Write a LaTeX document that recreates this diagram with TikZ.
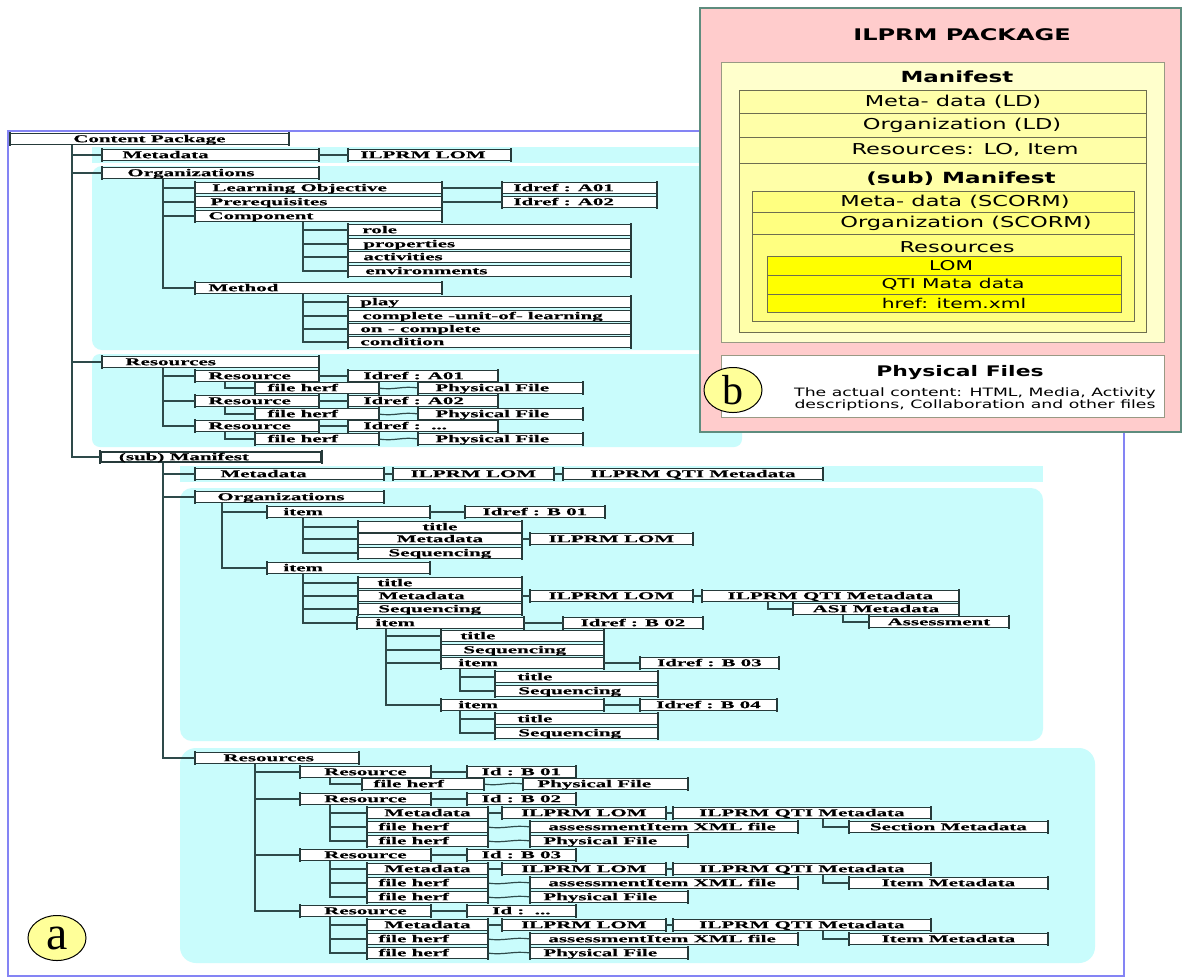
\documentclass[tikz,border=0pt]{standalone}
\usepackage{fontspec}
\usepackage{graphicx}
\usetikzlibrary{shapes.geometric}
\newfontfamily\treefont[FakeStretch=2.0,FakeBold=0.4]{Liberation Serif}
\newfontfamily\pkgfont[FakeStretch=1.5]{DejaVu Sans}
\newfontfamily\tagfont{Liberation Serif}
\definecolor{boxc}{HTML}{263A3A}
\definecolor{linec}{HTML}{2E4A4A}
\definecolor{cyanbg}{HTML}{C9FCFC}
\definecolor{framec}{HTML}{8484F4}
\definecolor{pinkc}{HTML}{FFCCCC}
\definecolor{pinkb}{HTML}{5E8C7E}
\definecolor{ylA}{HTML}{FFFFCC}
\definecolor{ylB}{HTML}{FFFFA8}
\definecolor{ylC}{HTML}{FFFF80}
\definecolor{ylD}{HTML}{FFFF00}
\definecolor{tagc}{HTML}{FFFF99}
\definecolor{rowc}{HTML}{6E6E50}

% tree box: name, left x, right x, centre y, text (centred)
\newcommand\bx[6][]{%
  \node[tb,#1] (#2) at (#3,#5) {\makebox[\dimexpr#4pt-#3pt\relax]{#6}};
  \draw[endbar] ([yshift=1pt]#2.north west) -- ([yshift=-1pt]#2.south west);
  \draw[endbar] ([yshift=1pt]#2.north east) -- ([yshift=-1pt]#2.south east);}
% tree box with left-aligned text: name, left x, right x, centre y, padding, text
\newcommand\bxl[7][]{%
  \node[tb,#1] (#2) at (#3,#5) {\makebox[\dimexpr#4pt-#3pt\relax][l]{\hspace*{#6pt}#7}};
  \draw[endbar] ([yshift=1pt]#2.north west) -- ([yshift=-1pt]#2.south west);
  \draw[endbar] ([yshift=1pt]#2.north east) -- ([yshift=-1pt]#2.south east);}
% elbow from a parent (offset from its left edge) to a child
\newcommand\el[4][]{\draw[cn,#1] ([xshift=#3pt]#2.south west) |- (#4.west);}
% straight link between neighbours
\newcommand\lk[2]{\draw[cn] (#1.east) -- (#2.west);}
% wavy link from a file reference to its file
\newcommand\sq[2]{\draw[cn] (#1.east) .. controls +(16,2.5) and +(-16,-2.5) .. (#2.west);}

% one resource of the sub-manifest with its metadata and files
\newcommand\resgrp[4]{%
  \bx{r#1}{300}{430}{#2}{Resource}
  \bx{r#1id}{467}{575}{#2}{#3}
  \bx{r#1m}{367}{487}{#2+14}{Metadata}
  \bx{r#1ml}{502}{665}{#2+14}{ILPRM LOM}
  \bx{r#1mq}{673}{930}{#2+14}{ILPRM QTI Metadata}
  \bx{r#1x}{849}{1047}{#2+28}{#4}
  \bxl{r#1fa}{367}{487}{#2+28}{11}{file herf}
  \bxl{r#1ax}{530}{797}{#2+28}{18}{assessmentItem XML file}
  \bxl{r#1fb}{367}{487}{#2+42}{11}{file herf}
  \bxl{r#1pf}{530}{687}{#2+42}{13}{Physical File}
  \el[midln]{sres}{60}{r#1}
  \lk{r#1}{r#1id}
  \el{r#1}{30}{r#1m}
  \el{r#1}{30}{r#1fa}
  \el{r#1}{30}{r#1fb}
  \lk{r#1m}{r#1ml}
  \lk{r#1ml}{r#1mq}
  \el{r#1mq}{150}{r#1x}
  \sq{r#1fa}{r#1ax}
  \sq{r#1fb}{r#1pf}}

\begin{document}
\begin{tikzpicture}[x=1pt,y=-1pt,
  tb/.style={draw=boxc,fill=white,line width=0.8pt,inner sep=0pt,
    minimum height=10.5pt,text height=7.8pt,text depth=1.4pt,anchor=west,
    font=\treefont\bfseries\fontsize{10.5}{11}\selectfont},
  endbar/.style={draw=boxc,line width=1.8pt},
  cn/.style={draw=linec,line width=1.2pt},
  midln/.style={line width=1.7pt},
  trunkln/.style={line width=2.2pt},
  pk/.style={inner sep=0pt,text=black},
  tagell/.style={ellipse,draw=black,line width=1pt,fill=tagc,
    minimum width=58pt,minimum height=45pt,inner sep=0pt}]
\useasboundingbox (0,0) rectangle (1182,978);
\fill[white] (0,0) rectangle (1182,978);

% ---------- shaded groups ----------
\fill[cyanbg] (92,147) rectangle (720,163);
\fill[cyanbg,rounded corners=10pt] (92,166) rectangle (720,350);
\fill[cyanbg,rounded corners=8pt] (92,354) rectangle (742,447);
\fill[cyanbg] (180,466) rectangle (1043,482);
\fill[cyanbg,rounded corners=12pt] (180,488) rectangle (1043,741);
\fill[cyanbg,rounded corners=16pt] (180,748) rectangle (1095,963);

% ---------- frame (a) ----------
\draw[framec,line width=2pt] (8,131) rectangle (1124,976);

% ---------- content package ----------
\bx{cp}{10}{288}{139}{Content Package}
\bxl{md}{102}{318}{155}{20}{Metadata}
\bxl{mdl}{348}{510}{155}{12}{ILPRM LOM}
\bxl{org}{102}{318}{173}{25}{Organizations}
\bxl{lo}{195}{441}{188}{17}{Learning Objective}
\bxl{lor}{502}{656}{188}{11}{Idref : A01}
\bxl{pre}{195}{441}{202}{15}{Prerequisites}
\bxl{prer}{502}{656}{202}{11}{Idref : A02}
\bxl{cmp}{195}{441}{216}{13}{Component}
\bxl{role}{348}{630}{230}{14}{role}
\bxl{prop}{348}{630}{244}{15}{properties}
\bxl{act}{348}{630}{257}{15}{activities}
\bxl{env}{348}{630}{271}{17}{environments}
\bxl{mth}{195}{441}{288}{13}{Method}
\bxl{play}{348}{630}{302}{12}{play}
\bxl{cul}{348}{630}{316}{14}{complete -unit-of- learning}
\bxl{onc}{348}{630}{329}{12}{on - complete}
\bxl{cond}{348}{630}{342}{12}{condition}
\bxl{res}{102}{318}{362}{23}{Resources}
\bxl{ra}{195}{318}{376}{13}{Resource}
\bxl{raid}{348}{497}{376}{15}{Idref : A01}
\bxl{rafh}{255}{378}{388}{12}{file herf}
\bxl{rapf}{418}{582}{388}{17}{Physical File}
\bxl{rb}{195}{318}{401}{13}{Resource}
\bxl{rbid}{348}{497}{401}{15}{Idref : A02}
\bxl{rbfh}{255}{378}{414}{12}{file herf}
\bxl{rbpf}{418}{582}{414}{17}{Physical File}
\bxl{rc}{195}{318}{426}{13}{Resource}
\bxl{rcid}{348}{497}{426}{15}{Idref :\ \ ...}
\bxl{rcfh}{255}{378}{439}{12}{file herf}
\bxl{rcpf}{418}{582}{439}{17}{Physical File}

\el[trunkln]{cp}{62}{md}
\el[trunkln]{cp}{62}{org}
\el[trunkln]{cp}{62}{res}
\lk{md}{mdl}
\el[midln]{org}{61}{lo}
\el[midln]{org}{61}{pre}
\el[midln]{org}{61}{cmp}
\el[midln]{org}{61}{mth}
\lk{lo}{lor}
\lk{pre}{prer}
\el[midln]{cmp}{108}{role}
\el[midln]{cmp}{108}{prop}
\el[midln]{cmp}{108}{act}
\el[midln]{cmp}{108}{env}
\el[midln]{mth}{108}{play}
\el[midln]{mth}{108}{cul}
\el[midln]{mth}{108}{onc}
\el[midln]{mth}{108}{cond}
\el[midln]{res}{61}{ra}
\el[midln]{res}{61}{rb}
\el[midln]{res}{61}{rc}
\lk{ra}{raid}
\lk{rb}{rbid}
\lk{rc}{rcid}
\el{ra}{30}{rafh}
\el{rb}{30}{rbfh}
\el{rc}{30}{rcfh}
\sq{rafh}{rapf}
\sq{rbfh}{rbpf}
\sq{rcfh}{rcpf}

% ---------- sub-manifest ----------
\bxl[line width=1.8pt]{sm}{100}{320}{457}{18}{(sub) Manifest}
\el[trunkln]{cp}{62}{sm}
\bxl{smd}{195}{383}{474}{25}{Metadata}
\bx{smdl}{393}{553}{474}{ILPRM LOM}
\bx{smdq}{563}{822}{474}{ILPRM QTI Metadata}
\bxl{sorg}{195}{383}{497}{22}{Organizations}
\bxl{ia}{267}{429}{512}{16}{item}
\bx{iaid}{465}{604}{512}{Idref : B 01}
\bx{iat}{358}{521}{527}{title}
\bx{iam}{358}{521}{539}{Metadata}
\bx{iaml}{530}{692}{539}{ILPRM LOM}
\bx{ias}{358}{521}{553}{Sequencing}
\bxl{ib}{267}{429}{568}{16}{item}
\bxl{ibt}{358}{521}{583}{19}{title}
\bxl{ibm}{358}{521}{596}{20}{Metadata}
\bx{ibml}{530}{692}{596}{ILPRM LOM}
\bx{ibmq}{702}{958}{596}{ILPRM QTI Metadata}
\bx{asi}{793}{958}{609}{ASI Metadata}
\bx{ass}{869}{1008}{622}{Assessment}
\bxl{ibs}{358}{521}{609}{20}{Sequencing}
\bxl{ic}{357}{523}{623}{18}{item}
\bx{icid}{563}{702}{623}{Idref : B 02}
\bxl{ict}{441}{603}{636}{19}{title}
\bxl{ics}{441}{603}{650}{22}{Sequencing}
\bxl{idd}{441}{603}{663}{17}{item}
\bx{idid}{640}{778}{663}{Idref : B 03}
\bxl{idt}{495}{657}{677}{22}{title}
\bxl{ids}{495}{657}{691}{23}{Sequencing}
\bxl{ie}{441}{603}{705}{17}{item}
\bx{ieid}{640}{776}{705}{Idref : B 04}
\bxl{iet}{495}{657}{719}{22}{title}
\bxl{ies}{495}{657}{733}{23}{Sequencing}
\bxl{sres}{195}{358}{758}{28}{Resources}

\el[midln]{sm}{63}{smd}
\el[midln]{sm}{63}{sorg}
\el[midln]{sm}{63}{sres}
\lk{smd}{smdl}
\lk{smdl}{smdq}
\el[midln]{sorg}{27}{ia}
\el[midln]{sorg}{27}{ib}
\lk{ia}{iaid}
\el{ia}{36}{iat}
\el{ia}{36}{iam}
\el{ia}{36}{ias}
\lk{iam}{iaml}
\el{ib}{36}{ibt}
\el{ib}{36}{ibm}
\el{ib}{36}{ibs}
\el{ib}{36}{ic}
\lk{ibm}{ibml}
\lk{ibml}{ibmq}
\el{ibmq}{66}{asi}
\el{asi}{50}{ass}
\lk{ic}{icid}
\el{ic}{29}{ict}
\el{ic}{29}{ics}
\el{ic}{29}{idd}
\el{ic}{29}{ie}
\lk{idd}{idid}
\el{idd}{19}{idt}
\el{idd}{19}{ids}
\lk{ie}{ieid}
\el{ie}{19}{iet}
\el{ie}{19}{ies}

% ---------- sub-manifest resources ----------
\bx{r1}{300}{430}{772}{Resource}
\bx{r1id}{467}{575}{772}{Id : B 01}
\bxl{r1fh}{362}{483}{784}{11}{file herf}
\bxl{r1pf}{523}{687}{784}{14}{Physical File}
\el[midln]{sres}{60}{r1}
\lk{r1}{r1id}
\el{r1}{30}{r1fh}
\sq{r1fh}{r1pf}
\resgrp{2}{799}{Id : B 02}{Section Metadata}
\resgrp{3}{855}{Id : B 03}{Item Metadata}
\resgrp{4}{911}{Id :\ \ ...}{Item Metadata}

\node[tagell] (taga) at (57,938) {\tagfont\fontsize{48}{48}\selectfont a};

% ---------- package overview (b) ----------
\filldraw[fill=pinkc,draw=pinkb,line width=2pt] (700,8) rectangle (1181,432);
\node[pk,font=\pkgfont\bfseries\fontsize{16}{18}\selectfont] (pkgt) at (962,35) {ILPRM PACKAGE};
\filldraw[fill=ylA,draw=rowc!70,line width=0.8pt] (721,62) rectangle (1164,342);
\node[pk,font=\pkgfont\bfseries\fontsize{15.3}{17}\selectfont] (mant) at (957,77) {Manifest};
\filldraw[fill=ylB,draw=rowc,line width=0.8pt] (739,90) rectangle (1146,332);
\draw[rowc,line width=0.8pt] (739,113) -- (1146,113) (739,137) -- (1146,137) (739,163) -- (1146,163);
\node[pk,font=\pkgfont\fontsize{15}{17}\selectfont] (ldm) at (953,102) {Meta- data (LD)};
\node[pk,font=\pkgfont\fontsize{15}{17}\selectfont] (ldo) at (962,125) {Organization (LD)};
\node[pk,font=\pkgfont\fontsize{15}{17}\selectfont] (ldr) at (965,150) {Resources: LO, Item};
\node[pk,font=\pkgfont\bfseries\fontsize{15.4}{17}\selectfont] (smt) at (961,179) {(sub) Manifest};
\filldraw[fill=ylC,draw=rowc,line width=0.8pt] (752,191) rectangle (1134,321);
\draw[rowc,line width=0.8pt] (752,212) -- (1134,212) (752,234) -- (1134,234);
\node[pk,font=\pkgfont\fontsize{15}{17}\selectfont] (scm) at (955,201.5) {Meta- data (SCORM)};
\node[pk,font=\pkgfont\fontsize{15}{17}\selectfont] (sco) at (966,223) {Organization (SCORM)};
\node[pk,font=\pkgfont\fontsize{15}{17}\selectfont] (scr) at (957,247) {Resources};
\filldraw[fill=ylD,draw=rowc,line width=0.8pt] (767,256) rectangle (1121,312);
\draw[rowc,line width=0.8pt] (767,275) -- (1121,275) (767,294) -- (1121,294);
\node[pk,font=\pkgfont\fontsize{13.5}{15}\selectfont] (lom) at (951,265.5) {LOM};
\node[pk,font=\pkgfont\fontsize{13.5}{15}\selectfont] (qti) at (953,284.5) {QTI Mata data};
\node[pk,font=\pkgfont\fontsize{13.5}{15}\selectfont] (hrf) at (954,303) {href: item.xml};
\filldraw[fill=white,draw=rowc!70,line width=0.8pt] (721,355) rectangle (1164,417);
\node[pk,font=\pkgfont\bfseries\fontsize{14.6}{16}\selectfont] (phf) at (960,373) {Physical Files};
\node[pk,align=center,font=\pkgfont\fontsize{11.5}{12}\selectfont] (phd) at (975,399)
  {The actual content: HTML, Media, Activity\\descriptions, Collaboration and other files};
\node[tagell] (tagb) at (733,390) {\tagfont\fontsize{42}{42}\selectfont b};
\end{tikzpicture}
\end{document}
